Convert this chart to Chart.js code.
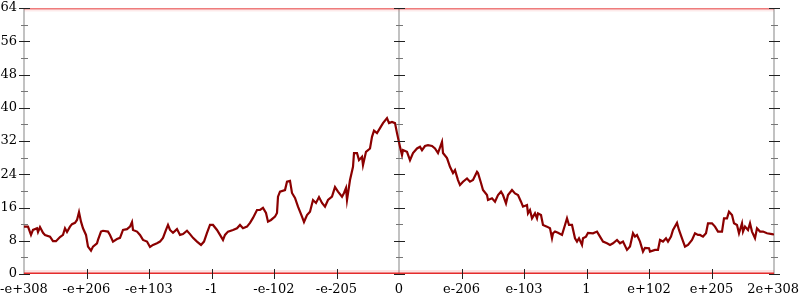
<!DOCTYPE html>
<html>
<head>
<meta charset="UTF-8">
<title>Chart</title>
<style>
  html, body { margin: 0; padding: 0; background: #fff; }
  #wrap { width: 800px; height: 300px; }
</style>
</head>
<body>
<div id="wrap"><canvas id="chart"></canvas></div>
<script src="https://cdn.jsdelivr.net/npm/chart.js"></script>
<script>
// tick labels along the x axis (one per unit, 0..12)
const xTickLabels = ['-e+308', '-e+206', '-e+103', '-1', '-e-102', '-e-205', '0',
                     'e-206', 'e-103', '1', 'e+102', 'e+205', '2e+308'];
// y tick labels
const yTickValues = [0, 8, 16, 24, 32, 40, 48, 56, 64];
// vertical axes are drawn at these x positions
const axisPositions = [0, 6, 12];

// series: x in tick units, y in value units
const seriesX = [
  0, 0.064, 0.112, 0.144, 0.208, 0.224, 0.256, 0.304, 0.336, 0.416, 0.464, 0.512,
  0.576, 0.624, 0.656, 0.688, 0.736, 0.768, 0.816, 0.848, 0.88, 0.912, 0.944, 0.992,
  1.024, 1.072, 1.104, 1.168, 1.184, 1.232, 1.264, 1.344, 1.376, 1.424, 1.488, 1.536,
  1.584, 1.648, 1.696, 1.728, 1.744, 1.808, 1.856, 1.904, 1.968, 2.016, 2.064, 2.128,
  2.176, 2.224, 2.272, 2.304, 2.336, 2.384, 2.448, 2.496, 2.544, 2.608, 2.656, 2.704,
  2.768, 2.832, 2.88, 2.928, 2.976, 3.024, 3.088, 3.136, 3.184, 3.216, 3.264, 3.344,
  3.408, 3.456, 3.504, 3.568, 3.616, 3.664, 3.728, 3.776, 3.824, 3.872, 3.904, 3.952,
  4.016, 4.048, 4.064, 4.096, 4.176, 4.208, 4.256, 4.288, 4.336, 4.384, 4.448, 4.48,
  4.528, 4.576, 4.624, 4.672, 4.72, 4.768, 4.816, 4.864, 4.928, 4.976, 5.024, 5.088,
  5.12, 5.152, 5.168, 5.216, 5.264, 5.28, 5.328, 5.36, 5.408, 5.424, 5.472, 5.536,
  5.568, 5.6, 5.648, 5.696, 5.744, 5.808, 5.84, 5.888, 5.936, 5.968, 6.016, 6.048,
  6.064, 6.128, 6.176, 6.224, 6.288, 6.336, 6.368, 6.416, 6.464, 6.528, 6.576, 6.624,
  6.688, 6.704, 6.768, 6.816, 6.864, 6.896, 6.944, 6.976, 7.024, 7.088, 7.136, 7.184,
  7.248, 7.264, 7.312, 7.344, 7.408, 7.424, 7.488, 7.536, 7.584, 7.632, 7.664, 7.712,
  7.744, 7.808, 7.856, 7.904, 7.952, 7.984, 8.048, 8.064, 8.096, 8.128, 8.176, 8.208,
  8.224, 8.272, 8.304, 8.368, 8.416, 8.448, 8.464, 8.496, 8.544, 8.608, 8.656, 8.688,
  8.72, 8.768, 8.816, 8.848, 8.88, 8.928, 8.944, 8.992, 9.024, 9.104, 9.168, 9.216,
  9.264, 9.328, 9.376, 9.424, 9.488, 9.536, 9.584, 9.648, 9.696, 9.744, 9.776, 9.808,
  9.856, 9.904, 9.936, 10.0, 10.016, 10.096, 10.144, 10.176, 10.224, 10.272, 10.304, 10.352,
  10.384, 10.448, 10.48, 10.528, 10.576, 10.624, 10.688, 10.736, 10.784, 10.816, 10.864, 10.912,
  10.944, 11.008, 11.056, 11.104, 11.168, 11.2, 11.248, 11.28, 11.328, 11.36, 11.408, 11.44,
  11.488, 11.504, 11.536, 11.584, 11.616, 11.648, 11.696, 11.728, 11.776, 11.824, 11.888, 11.968,
  12.0
];
const seriesY = [
  11.4, 11.4, 9.4, 10.6, 11.0, 10.1, 11.3, 9.9, 9.4, 9.0, 7.9, 7.9,
  8.9, 9.4, 11.0, 10.1, 11.4, 12.0, 12.3, 13.0, 14.9, 12.6, 11.0, 9.4,
  6.6, 5.6, 6.6, 7.4, 8.2, 10.2, 10.4, 10.2, 9.4, 7.8, 8.4, 8.7,
  10.6, 10.8, 11.4, 12.5, 10.6, 10.2, 9.4, 8.2, 7.8, 6.5, 7.0, 7.4,
  7.8, 8.7, 10.6, 11.8, 10.6, 9.9, 10.8, 9.4, 9.6, 10.4, 9.6, 8.7,
  7.8, 7.0, 7.8, 9.9, 11.8, 11.8, 10.6, 9.4, 8.2, 9.4, 10.2, 10.6,
  11.0, 11.8, 11.0, 11.4, 12.3, 13.5, 15.4, 15.4, 15.9, 14.7, 12.6, 13.0,
  13.8, 14.7, 18.6, 19.8, 20.2, 22.2, 22.4, 19.5, 18.3, 16.2, 13.8, 12.5,
  14.2, 15.0, 17.8, 17.1, 18.5, 17.1, 16.2, 17.8, 18.6, 20.9, 19.8, 18.6,
  19.5, 20.7, 17.8, 22.6, 25.8, 29.1, 29.1, 27.4, 28.2, 26.2, 29.4, 30.2,
  33.0, 34.5, 33.9, 35.1, 36.3, 37.5, 36.3, 36.6, 36.3, 33.9, 30.6, 28.6,
  29.8, 29.4, 27.4, 29.1, 30.2, 30.6, 29.8, 30.8, 31.0, 30.8, 30.2, 29.1,
  31.8, 29.1, 27.9, 25.8, 24.3, 25.0, 22.6, 21.4, 22.2, 23.0, 22.2, 22.6,
  24.6, 24.3, 21.9, 20.2, 19.0, 17.8, 18.2, 17.4, 19.0, 19.8, 19.0, 17.0,
  19.0, 20.2, 19.4, 19.0, 17.4, 16.2, 16.6, 14.6, 15.4, 13.4, 14.6, 13.4,
  14.6, 14.2, 11.8, 11.4, 11.0, 8.6, 9.8, 10.2, 9.9, 9.4, 11.8, 13.4,
  11.8, 11.8, 8.6, 7.8, 8.6, 7.0, 8.6, 9.0, 9.9, 9.8, 10.2, 9.0,
  7.8, 7.4, 7.0, 7.4, 8.2, 7.4, 7.8, 5.8, 6.6, 9.8, 9.0, 9.4,
  7.8, 5.4, 6.3, 6.2, 5.4, 5.8, 5.8, 8.2, 7.8, 8.6, 7.8, 9.0,
  10.6, 12.3, 10.6, 8.6, 6.6, 7.0, 8.2, 9.8, 9.4, 9.4, 9.0, 9.8,
  12.2, 12.2, 11.4, 10.2, 10.2, 13.4, 13.4, 15.0, 14.2, 12.2, 11.8, 9.8,
  12.2, 10.2, 11.4, 10.6, 12.2, 10.2, 8.6, 11.0, 10.2, 10.2, 9.8, 9.6,
  9.5
];
// limit bands at the bottom and top of the range
const lowLimit = 0;
const highLimit = 64;

const xMin = 0, xMax = 12;
const labelFont = '13px "DejaVu Serif"';

// draws the three vertical axes with crossing tick marks, plus tick labels
const crossAxes = {
  id: 'crossAxes',
  beforeDatasetsDraw(chart) {
    const { ctx, scales: { x, y } } = chart;
    ctx.save();
    ctx.strokeStyle = '#c2c2c2';
    ctx.lineWidth = 2;
    axisPositions.forEach(v => {
      const px = Math.round(x.getPixelForValue(v));
      ctx.beginPath();
      ctx.moveTo(px, y.top);
      ctx.lineTo(px, y.bottom);
      ctx.stroke();
    });
    ctx.restore();
  },
  afterDatasetsDraw(chart) {
    const { ctx, scales: { x, y } } = chart;
    ctx.save();
    ctx.lineWidth = 1;
    axisPositions.forEach(v => {
      const px = Math.round(x.getPixelForValue(v));
      for (let t = 0; t <= 64; t += 4) {
        const py = Math.round(y.getPixelForValue(t)) + 0.5;
        const major = t % 8 === 0;
        const len = major ? 5 : 3;
        ctx.strokeStyle = major ? '#222' : '#777';
        ctx.beginPath();
        ctx.moveTo(px - len, py);
        ctx.lineTo(px + len + 1, py);
        ctx.stroke();
      }
    });
    ctx.strokeStyle = '#222';
    for (let i = 0; i < xTickLabels.length; i++) {
      if (axisPositions.includes(i)) continue;
      const px = Math.round(x.getPixelForValue(i)) + 0.5;
      ctx.beginPath();
      ctx.moveTo(px, y.bottom - 5);
      ctx.lineTo(px, y.bottom + 5);
      ctx.stroke();
    }

    // tick labels
    ctx.fillStyle = '#000';
    ctx.font = labelFont;
    ctx.textAlign = 'right';
    ctx.textBaseline = 'middle';
    yTickValues.forEach(t => {
      ctx.fillText(String(t), x.left - 7, y.getPixelForValue(t));
    });
    ctx.textAlign = 'center';
    xTickLabels.forEach((lbl, i) => {
      let px = x.getPixelForValue(i);
      const w = ctx.measureText(lbl).width;
      px = Math.min(px, chart.width - w / 2 - 1);
      px = Math.max(px, w / 2);
      ctx.fillText(lbl, px, y.bottom + 16);
    });
    ctx.restore();
  }
};

function band(value, color, width, order) {
  return {
    data: [{ x: xMin, y: value }, { x: xMax, y: value }],
    borderColor: color,
    borderWidth: width,
    pointRadius: 0,
    order: order
  };
}

const ctx = document.getElementById('chart').getContext('2d');
new Chart(ctx, {
  type: 'line',
  data: {
    datasets: [
      {
        label: 'series',
        data: seriesX.map((v, i) => ({ x: v, y: seriesY[i] })),
        borderColor: '#8b0000',
        borderWidth: 2.2,
        pointRadius: 0,
        tension: 0,
        order: 0
      },
      band(lowLimit, 'rgba(228, 35, 35, 0.95)', 3, 1),
      band(lowLimit, 'rgba(235, 70, 70, 0.15)', 8, 2),
      band(highLimit, 'rgba(228, 50, 50, 0.6)', 3, 3),
      band(highLimit, 'rgba(235, 80, 80, 0.12)', 7, 4)
    ]
  },
  options: {
    responsive: true,
    maintainAspectRatio: false,
    animation: false,
    layout: { padding: { top: 8, right: 26, left: 0, bottom: 0 } },
    plugins: { legend: { display: false }, tooltip: { enabled: false } },
    scales: {
      x: {
        type: 'linear',
        min: xMin,
        max: xMax,
        grid: { display: false, drawTicks: false },
        border: { display: false },
        ticks: { display: false, stepSize: 1 },
        afterFit: s => { s.height = 26; }
      },
      y: {
        min: 0,
        max: 64,
        grid: { display: false, drawTicks: false },
        border: { display: false },
        ticks: { display: false, stepSize: 8 },
        afterFit: s => { s.width = 24; }
      }
    }
  },
  plugins: [crossAxes]
});
</script>
</body>
</html>
